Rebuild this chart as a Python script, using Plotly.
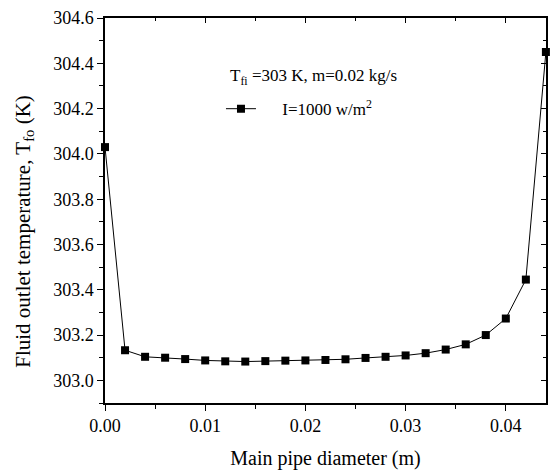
import plotly.graph_objects as go

diameter = [0.0, 0.002, 0.004, 0.006, 0.008, 0.010, 0.012, 0.014, 0.016, 0.018, 0.020,
            0.022, 0.024, 0.026, 0.028, 0.030, 0.032, 0.034, 0.036, 0.038, 0.040, 0.042, 0.044]
t_outlet = [304.03, 303.133, 303.104, 303.100, 303.094, 303.088, 303.084, 303.083, 303.085,
            303.087, 303.088, 303.090, 303.093, 303.099, 303.104, 303.110, 303.120, 303.136,
            303.159, 303.200, 303.273, 303.445, 304.45]

series_name = "&nbsp;&nbsp;&nbsp;&nbsp;&nbsp;I=1000 w/m<sup>2</sup>"
condition_text = "T<sub>fi</sub> =303 K, m=0.02 kg/s"
x_title = "Main pipe diameter (m)"
y_title = "Fluid outlet temperature, T<sub>fo</sub> (K)"

FONT = "Liberation Serif"
XR = [0, 0.04401]
YR = [302.9, 304.6001]

fig = go.Figure()
fig.add_trace(go.Scatter(
    x=diameter, y=t_outlet, mode="lines+markers", name=series_name,
    line=dict(color="black", width=1),
    marker=dict(symbol="square", size=8, color="black"),
    cliponaxis=False,
))
# invisible copy on the mirrored axes so the top/right frame with inside ticks is drawn
fig.add_trace(go.Scatter(x=diameter, y=t_outlet, xaxis="x2", yaxis="y2", mode="markers",
                         marker=dict(opacity=0), showlegend=False, hoverinfo="skip"))

axis_common = dict(
    showline=True, linecolor="black", linewidth=1.5, showgrid=False, zeroline=False,
    ticks="outside", ticklen=6, tickwidth=1.2, tickcolor="black", automargin=False,
    tickfont=dict(family=FONT, size=18, color="black"),
)
mirror_common = dict(
    showline=True, linecolor="black", linewidth=1.5, showgrid=False, zeroline=False,
    ticks="inside", ticklen=5, tickwidth=1.2, tickcolor="black", showticklabels=False,
    automargin=False,
)

fig.update_layout(
    width=550, height=473,
    margin=dict(l=105, r=4, t=18, b=70),
    paper_bgcolor="white", plot_bgcolor="white",
    font=dict(family=FONT, size=17, color="black"),
    showlegend=True,
    legend=dict(x=0.263, y=0.81, xanchor="left", yanchor="top",
                bgcolor="rgba(0,0,0,0)", font=dict(family=FONT, size=17),
                itemwidth=30),
    xaxis=dict(range=XR, tick0=0, dtick=0.01, tickformat=".2f",
               minor=dict(dtick=0.005, ticks="outside", ticklen=4, tickcolor="black"),
               title=dict(text=x_title, font=dict(family=FONT, size=20), standoff=16),
               **axis_common),
    yaxis=dict(range=YR, tick0=303.0, dtick=0.2, tickformat=".1f",
               minor=dict(dtick=0.1, ticks="outside", ticklen=4, tickcolor="black"),
               **axis_common),
    xaxis2=dict(overlaying="x", side="top", anchor="y", range=XR, tick0=0, dtick=0.01,
                minor=dict(dtick=0.005, ticks="inside", ticklen=3, tickcolor="black"),
                **mirror_common),
    yaxis2=dict(overlaying="y", side="right", anchor="x", range=YR, tick0=303.0, dtick=0.2,
                minor=dict(dtick=0.1, ticks="inside", ticklen=3, tickcolor="black"),
                **mirror_common),
    annotations=[
        dict(text=condition_text, xref="paper", yref="paper", x=0.28, y=0.847,
             xanchor="left", yanchor="middle", showarrow=False,
             font=dict(family=FONT, size=17)),
        dict(text=y_title, xref="paper", yref="paper", x=-0.184, y=0.447,
             xanchor="center", yanchor="middle", textangle=-90, showarrow=False,
             font=dict(family=FONT, size=21)),
    ],
)

# remove the page's default body margin so the figure fills the 550x473 window exactly
fig.write_html("out.html", config={"displayModeBar": False},
               post_script="document.body.style.margin='0';document.body.style.overflow='hidden';")
